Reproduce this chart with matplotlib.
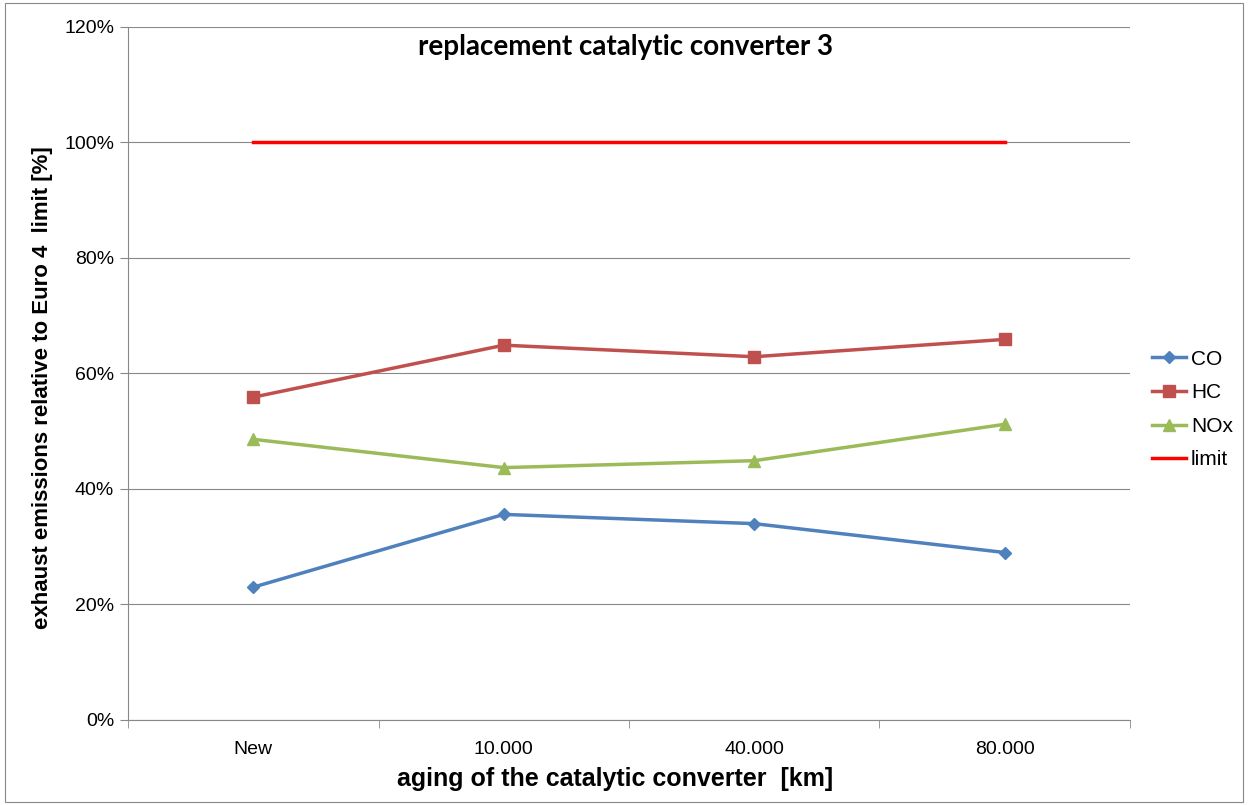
import matplotlib
matplotlib.use("Agg")
import matplotlib.pyplot as plt
from matplotlib.patches import Rectangle
from matplotlib.ticker import FuncFormatter, FixedLocator

plt.rcParams['font.family'] = ['Liberation Sans', 'DejaVu Sans']

categories = ['New', '10.000', '40.000', '80.000']
co = [23.0, 35.6, 34.0, 29.0]
hc = [55.9, 64.9, 62.9, 65.9]
nox = [48.6, 43.7, 44.9, 51.2]
limit = [100, 100, 100, 100]

fig = plt.figure(figsize=(12.48, 8.05), dpi=100)
ax = fig.add_axes([0.1026, 0.1056, 0.8028, 0.8609])

x = list(range(len(categories)))
ax.plot(x, co, color='#4F81BD', lw=2.5, marker='D', ms=6.5, label='CO')
ax.plot(x, hc, color='#C0504D', lw=2.5, marker='s', ms=8, label='HC')
ax.plot(x, nox, color='#9BBB59', lw=2.5, marker='^', ms=9, label='NOx')
ax.plot(x, limit, color='#FF0000', lw=2.5, label='limit')

ax.set_xlim(-0.5, 3.5)
ax.set_ylim(0, 120)
ax.set_yticks(range(0, 121, 20))
ax.yaxis.set_major_formatter(FuncFormatter(lambda v, p: f'{int(v)}%'))
ax.set_xticks(x)
ax.set_xticklabels(categories)
ax.xaxis.set_minor_locator(FixedLocator([-0.5, 0.5, 1.5, 2.5, 3.5]))
ax.tick_params(axis='x', which='major', length=0, pad=15, labelsize=14)
ax.tick_params(axis='x', which='minor', length=6, color='#888888')
ax.tick_params(axis='y', length=6, color='#888888', labelsize=14, pad=4)
ax.grid(axis='y', color='#888888', lw=0.8)
ax.set_axisbelow(True)
for s in ['top', 'right']:
    ax.spines[s].set_visible(False)
for s in ['left', 'bottom']:
    ax.spines[s].set_color('#888888')

ax.set_xlabel('aging of the catalytic converter  [km]', fontsize=18, fontweight='bold')
ax.xaxis.set_label_coords(0.486, -0.068)
ax.set_ylabel('exhaust emissions relative to Euro 4  limit [%]', fontsize=16, fontweight='bold')
ax.yaxis.set_label_coords(-0.075, 0.479)
ax.text(0.497, 0.971, 'replacement catalytic converter 3', transform=ax.transAxes,
        ha='center', va='center', fontsize=20, fontweight='bold', family=['Lato', 'DejaVu Sans'])

ax.legend(loc='center left', bbox_to_anchor=(1.014, 0.448), frameon=False, fontsize=15,
          borderaxespad=0, handlelength=1.6, labelspacing=0.7, handletextpad=0.25)

fig.patches.append(Rectangle((0.004, 0.004), 0.992, 0.992, transform=fig.transFigure,
                             fill=False, edgecolor='#888888', lw=0.8))

fig.savefig('out.png', dpi=100)
